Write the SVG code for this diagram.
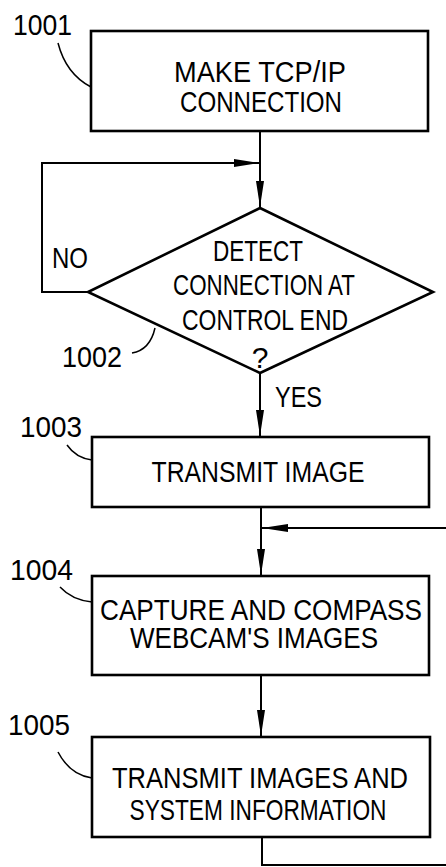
<svg xmlns="http://www.w3.org/2000/svg" width="446" height="867" viewBox="0 0 446 867">
<defs>
<style>
.box{fill:#fff;stroke:#000;stroke-width:2.6}
.ln{fill:none;stroke:#000;stroke-width:2}
.ld{fill:none;stroke:#000;stroke-width:1.5}
text{font-family:"Liberation Sans",Arial,sans-serif;font-size:30px;fill:#000}
.c{text-anchor:middle}
</style>
<marker id="ah" markerUnits="userSpaceOnUse" markerWidth="28" markerHeight="10" refX="26" refY="4" orient="auto">
<path d="M0,0 L26,4 L0,8 Z" fill="#000"/>
</marker>
</defs>
<rect width="446" height="867" fill="#fff"/>
<g id="connectors">
<path class="ln" d="M260,132 L260,207" marker-end="url(#ah)"/>
<path class="ln" d="M88,292 L42,292 L42,163 L260,163" marker-end="url(#ah)"/>
<path class="ln" d="M260,373 L260,436" marker-end="url(#ah)"/>
<path class="ln" d="M261,507 L261,575" marker-end="url(#ah)"/>
<path class="ln" d="M261,675 L261,736" marker-end="url(#ah)"/>
<path class="ln" d="M262,838 L262,865 L452,865 L452,528 L262,528" marker-end="url(#ah)"/>
<text x="52" y="268" textLength="36" lengthAdjust="spacingAndGlyphs">NO</text>
<text x="275" y="407" textLength="47" lengthAdjust="spacingAndGlyphs">YES</text>
</g>
<g id="n1001">
<rect class="box" x="91" y="31" width="337" height="100"/>
<text class="c" x="260" y="82" textLength="172" lengthAdjust="spacingAndGlyphs">MAKE TCP/IP</text>
<text class="c" x="261" y="112" textLength="162" lengthAdjust="spacingAndGlyphs">CONNECTION</text>
<path class="ld" d="M58,43 Q66,74 91,87"/>
<text x="13" y="35" textLength="59" lengthAdjust="spacingAndGlyphs">1001</text>
</g>
<g id="n1002">
<polygon class="box" points="260,208 433,292 260,373 88,292"/>
<text class="c" x="258" y="261" textLength="90" lengthAdjust="spacingAndGlyphs">DETECT</text>
<text class="c" x="264" y="295" textLength="182" lengthAdjust="spacingAndGlyphs">CONNECTION AT</text>
<text class="c" x="265" y="330" textLength="166" lengthAdjust="spacingAndGlyphs">CONTROL END</text>
<text class="c" x="260" y="368">?</text>
<path class="ld" d="M132,353 Q150,350 155,328"/>
<text x="62" y="367" textLength="60" lengthAdjust="spacingAndGlyphs">1002</text>
</g>
<g id="n1003">
<rect class="box" x="92" y="437" width="337" height="70"/>
<text class="c" x="258" y="482" textLength="213" lengthAdjust="spacingAndGlyphs">TRANSMIT IMAGE</text>
<path class="ld" d="M67,445 Q76,458 92,460"/>
<text x="20" y="437" textLength="62" lengthAdjust="spacingAndGlyphs">1003</text>
</g>
<g id="n1004">
<rect class="box" x="92" y="576" width="337" height="99"/>
<text class="c" x="261" y="620" textLength="322" lengthAdjust="spacingAndGlyphs">CAPTURE AND COMPASS</text>
<text class="c" x="254" y="648" textLength="248" lengthAdjust="spacingAndGlyphs">WEBCAM'S IMAGES</text>
<path class="ld" d="M60,587 Q72,600 92,602"/>
<text x="10" y="580" textLength="63" lengthAdjust="spacingAndGlyphs">1004</text>
</g>
<g id="n1005">
<rect class="box" x="92" y="737" width="338" height="100"/>
<text class="c" x="260" y="788" textLength="296" lengthAdjust="spacingAndGlyphs">TRANSMIT IMAGES AND</text>
<text class="c" x="258" y="820" textLength="257" lengthAdjust="spacingAndGlyphs">SYSTEM INFORMATION</text>
<path class="ld" d="M58,752 Q70,775 92,778"/>
<text x="8" y="735" textLength="62" lengthAdjust="spacingAndGlyphs">1005</text>
</g>
</svg>
